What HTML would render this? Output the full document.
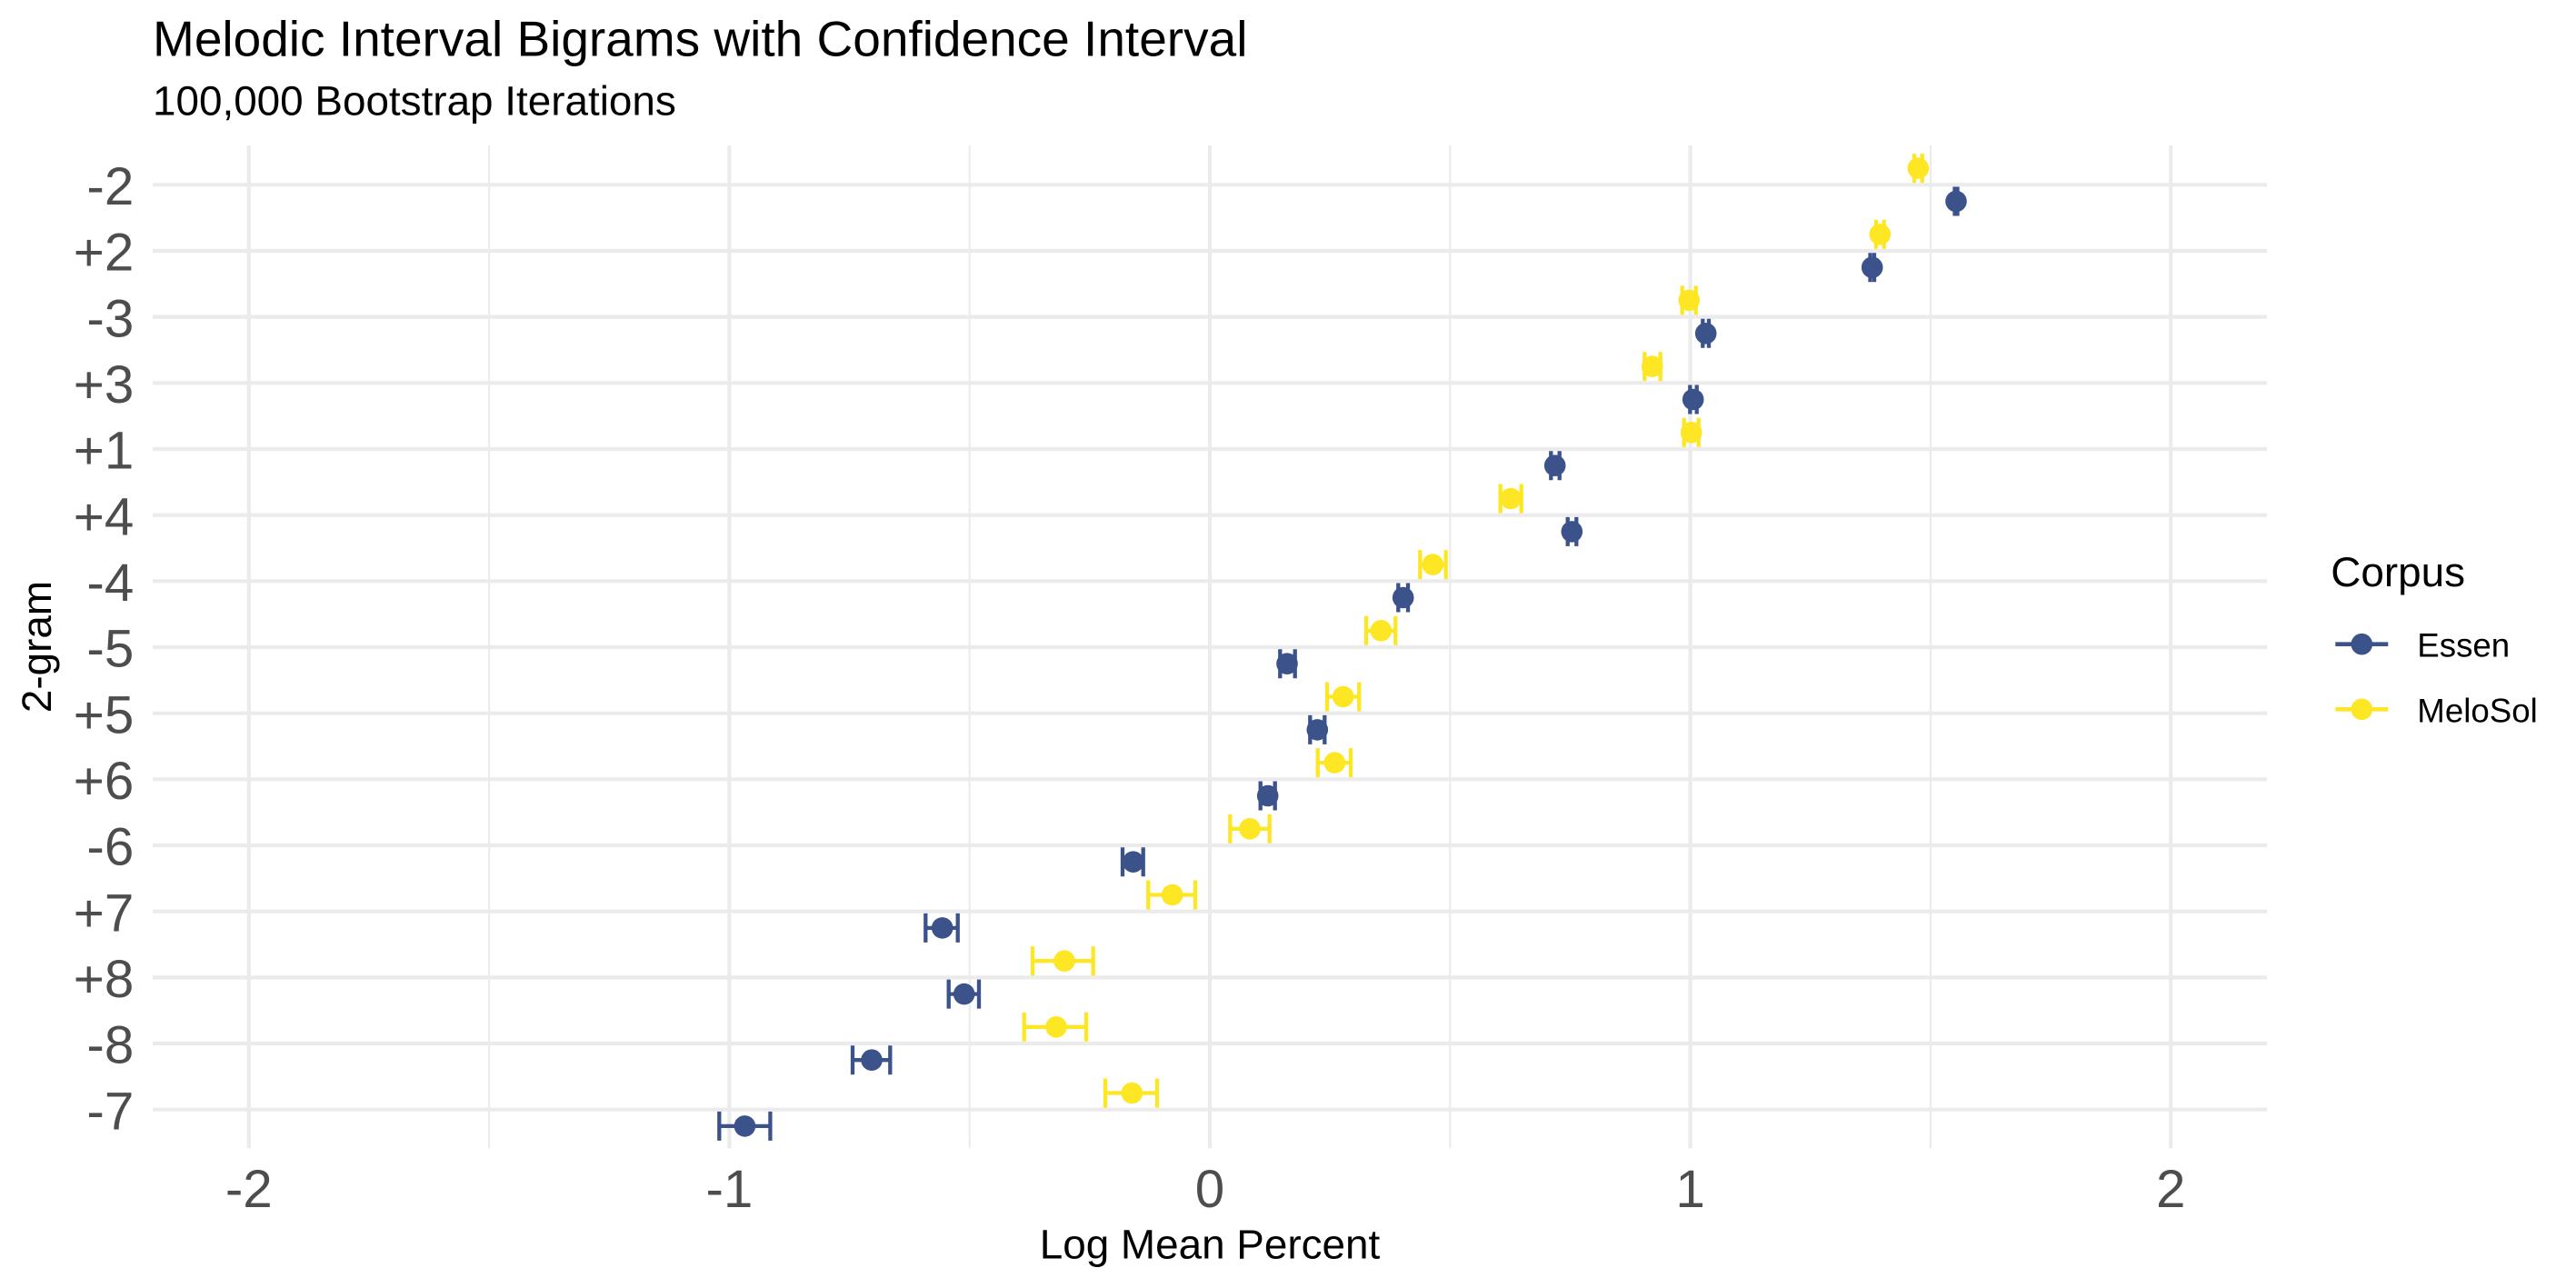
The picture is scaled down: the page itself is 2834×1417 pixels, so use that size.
<!DOCTYPE html>
<html>
<head>
<meta charset="utf-8">
<style>
html,body{margin:0;padding:0;background:#fff;}
svg{display:block;}
text{font-family:"Liberation Sans",Arial,sans-serif;}
</style>
</head>
<body>
<svg width="2834" height="1417" viewBox="0 0 2834 1417" xmlns="http://www.w3.org/2000/svg">
<rect x="0" y="0" width="2834" height="1417" fill="#ffffff"/>

<!-- Title / subtitle -->
<text x="168" y="61.7" font-size="55" fill="#000000">Melodic Interval Bigrams with Confidence Interval</text>
<text x="168" y="126.7" font-size="45.83" fill="#000000">100,000 Bootstrap Iterations</text>

<!-- minor vertical gridlines -->
<g stroke="#EBEBEB" stroke-width="2.1">
<line x1="538.1" y1="160" x2="538.1" y2="1263.3"/>
<line x1="1066.7" y1="160" x2="1066.7" y2="1263.3"/>
<line x1="1595.3" y1="160" x2="1595.3" y2="1263.3"/>
<line x1="2123.9" y1="160" x2="2123.9" y2="1263.3"/>
</g>
<!-- major vertical gridlines -->
<g stroke="#EBEBEB" stroke-width="4.2">
<line x1="273.8" y1="160" x2="273.8" y2="1263.3"/>
<line x1="802.4" y1="160" x2="802.4" y2="1263.3"/>
<line x1="1331" y1="160" x2="1331" y2="1263.3"/>
<line x1="1859.6" y1="160" x2="1859.6" y2="1263.3"/>
<line x1="2388.2" y1="160" x2="2388.2" y2="1263.3"/>
</g>
<!-- horizontal gridlines -->
<g stroke="#EBEBEB" stroke-width="4.2">
<line x1="168" y1="203.3" x2="2494" y2="203.3"/>
<line x1="168" y1="276.0" x2="2494" y2="276.0"/>
<line x1="168" y1="348.6" x2="2494" y2="348.6"/>
<line x1="168" y1="421.3" x2="2494" y2="421.3"/>
<line x1="168" y1="494.0" x2="2494" y2="494.0"/>
<line x1="168" y1="566.7" x2="2494" y2="566.7"/>
<line x1="168" y1="639.3" x2="2494" y2="639.3"/>
<line x1="168" y1="712.0" x2="2494" y2="712.0"/>
<line x1="168" y1="784.7" x2="2494" y2="784.7"/>
<line x1="168" y1="857.3" x2="2494" y2="857.3"/>
<line x1="168" y1="930.0" x2="2494" y2="930.0"/>
<line x1="168" y1="1002.7" x2="2494" y2="1002.7"/>
<line x1="168" y1="1075.4" x2="2494" y2="1075.4"/>
<line x1="168" y1="1148.0" x2="2494" y2="1148.0"/>
<line x1="168" y1="1220.7" x2="2494" y2="1220.7"/>
</g>

<!-- Y tick labels -->
<g font-size="58.33" fill="#4D4D4D" text-anchor="end">
<text x="147.3" y="225.0">-2</text>
<text x="147.3" y="297.7">+2</text>
<text x="147.3" y="370.3">-3</text>
<text x="147.3" y="443.0">+3</text>
<text x="147.3" y="515.7">+1</text>
<text x="147.3" y="588.4">+4</text>
<text x="147.3" y="661.0">-4</text>
<text x="147.3" y="733.7">-5</text>
<text x="147.3" y="806.4">+5</text>
<text x="147.3" y="879.0">+6</text>
<text x="147.3" y="951.7">-6</text>
<text x="147.3" y="1024.4">+7</text>
<text x="147.3" y="1097.1">+8</text>
<text x="147.3" y="1169.7">-8</text>
<text x="147.3" y="1242.4">-7</text>
</g>

<!-- X tick labels -->
<g font-size="58.33" fill="#4D4D4D" text-anchor="middle">
<text x="273.8" y="1327.8">-2</text>
<text x="802.4" y="1327.8">-1</text>
<text x="1331" y="1327.8">0</text>
<text x="1859.6" y="1327.8">1</text>
<text x="2388.2" y="1327.8">2</text>
</g>

<!-- Axis titles -->
<text x="1331" y="1384.3" font-size="45.83" fill="#000000" text-anchor="middle">Log Mean Percent</text>
<text transform="translate(56,711.5) rotate(-90)" x="0" y="0" font-size="45.83" fill="#000000" text-anchor="middle">2-gram</text>

<!-- Essen (blue) error bars -->
<g stroke="#3B528B" stroke-width="4.3" fill="none">
<path d="M2150.5 221.5H2153.5 M2150.5 205.5V237.5 M2153.5 205.5V237.5"/>
<path d="M2057.5 294.2H2062 M2057.5 278.2V310.2 M2062 278.2V310.2"/>
<path d="M1873.3 366.8H1880 M1873.3 350.8V382.8 M1880 350.8V382.8"/>
<path d="M1859.3 439.5H1866.7 M1859.3 423.5V455.5 M1866.7 423.5V455.5"/>
<path d="M1706.3 512.2H1715.7 M1706.3 496.2V528.2 M1715.7 496.2V528.2"/>
<path d="M1724.7 584.9H1734.3 M1724.7 568.9V600.9 M1734.3 568.9V600.9"/>
<path d="M1538.3 657.5H1549 M1538.3 641.5V673.5 M1549 641.5V673.5"/>
<path d="M1408.3 730.2H1424.7 M1408.3 714.2V746.2 M1424.7 714.2V746.2"/>
<path d="M1441.3 802.9H1457.3 M1441.3 786.9V818.9 M1457.3 786.9V818.9"/>
<path d="M1386.7 875.5H1402.7 M1386.7 859.5V891.5 M1402.7 859.5V891.5"/>
<path d="M1235 948.2H1257.7 M1235 932.2V964.2 M1257.7 932.2V964.2"/>
<path d="M1018.3 1020.9H1053.7 M1018.3 1004.9V1036.9 M1053.7 1004.9V1036.9"/>
<path d="M1043.7 1093.6H1077 M1043.7 1077.6V1109.6 M1077 1077.6V1109.6"/>
<path d="M938 1166.2H979.3 M938 1150.2V1182.2 M979.3 1150.2V1182.2"/>
<path d="M791.3 1238.9H847.4 M791.3 1222.9V1254.9 M847.4 1222.9V1254.9"/>
</g>
<g fill="#3B528B">
<circle cx="2152" cy="221.5" r="11.8"/>
<circle cx="2059.7" cy="294.2" r="11.8"/>
<circle cx="1876.7" cy="366.8" r="11.8"/>
<circle cx="1862.7" cy="439.5" r="11.8"/>
<circle cx="1710.7" cy="512.2" r="11.8"/>
<circle cx="1729.3" cy="584.9" r="11.8"/>
<circle cx="1543.7" cy="657.5" r="11.8"/>
<circle cx="1416" cy="730.2" r="11.8"/>
<circle cx="1449.3" cy="802.9" r="11.8"/>
<circle cx="1394.7" cy="875.5" r="11.8"/>
<circle cx="1246.7" cy="948.2" r="11.8"/>
<circle cx="1036.7" cy="1020.9" r="11.8"/>
<circle cx="1060.7" cy="1093.6" r="11.8"/>
<circle cx="959" cy="1166.2" r="11.8"/>
<circle cx="819.4" cy="1238.9" r="11.8"/>
</g>

<!-- MeloSol (yellow) error bars -->
<g stroke="#FDE725" stroke-width="4.3" fill="none">
<path d="M2106 185.1H2114.7 M2106 169.1V201.1 M2114.7 169.1V201.1"/>
<path d="M2064 257.8H2072.7 M2064 241.8V273.8 M2072.7 241.8V273.8"/>
<path d="M1850.7 330.4H1865.7 M1850.7 314.4V346.4 M1865.7 314.4V346.4"/>
<path d="M1809.3 403.1H1826.7 M1809.3 387.1V419.1 M1826.7 387.1V419.1"/>
<path d="M1852.7 475.8H1868.7 M1852.7 459.8V491.8 M1868.7 459.8V491.8"/>
<path d="M1650.7 548.5H1673.7 M1650.7 532.5V564.5 M1673.7 532.5V564.5"/>
<path d="M1562.3 621.1H1590.7 M1562.3 605.1V637.1 M1590.7 605.1V637.1"/>
<path d="M1503 693.8H1535.3 M1503 677.8V709.8 M1535.3 677.8V709.8"/>
<path d="M1460 766.5H1495.3 M1460 750.5V782.5 M1495.3 750.5V782.5"/>
<path d="M1449.7 839.1H1486 M1449.7 823.1V855.1 M1486 823.1V855.1"/>
<path d="M1353.3 911.8H1396.7 M1353.3 895.8V927.8 M1396.7 895.8V927.8"/>
<path d="M1263.3 984.5H1315 M1263.3 968.5V1000.5 M1315 968.5V1000.5"/>
<path d="M1136 1057.2H1202.7 M1136 1041.2V1073.2 M1202.7 1041.2V1073.2"/>
<path d="M1126.7 1129.8H1195 M1126.7 1113.8V1145.8 M1195 1113.8V1145.8"/>
<path d="M1216 1202.5H1273 M1216 1186.5V1218.5 M1273 1186.5V1218.5"/>
</g>
<g fill="#FDE725">
<circle cx="2110.3" cy="185.1" r="11.8"/>
<circle cx="2068.3" cy="257.8" r="11.8"/>
<circle cx="1858.3" cy="330.4" r="11.8"/>
<circle cx="1817.7" cy="403.1" r="11.8"/>
<circle cx="1860.7" cy="475.8" r="11.8"/>
<circle cx="1662" cy="548.5" r="11.8"/>
<circle cx="1576.3" cy="621.1" r="11.8"/>
<circle cx="1519.3" cy="693.8" r="11.8"/>
<circle cx="1477.7" cy="766.5" r="11.8"/>
<circle cx="1468.3" cy="839.1" r="11.8"/>
<circle cx="1375" cy="911.8" r="11.8"/>
<circle cx="1289.7" cy="984.5" r="11.8"/>
<circle cx="1171" cy="1057.2" r="11.8"/>
<circle cx="1162" cy="1129.8" r="11.8"/>
<circle cx="1245.3" cy="1202.5" r="11.8"/>
</g>

<!-- Legend -->
<text x="2564.3" y="645" font-size="45.83" fill="#000000">Corpus</text>
<line x1="2569.3" y1="708.7" x2="2627.3" y2="708.7" stroke="#3B528B" stroke-width="4.6"/>
<circle cx="2598.3" cy="708.7" r="11.8" fill="#3B528B"/>
<text x="2659.3" y="722.3" font-size="36.67" fill="#000000">Essen</text>
<line x1="2569.3" y1="780.3" x2="2627.3" y2="780.3" stroke="#FDE725" stroke-width="4.6"/>
<circle cx="2598.3" cy="780.3" r="11.8" fill="#FDE725"/>
<text x="2659.3" y="794.3" font-size="36.67" fill="#000000">MeloSol</text>
</svg>
</body>
</html>
